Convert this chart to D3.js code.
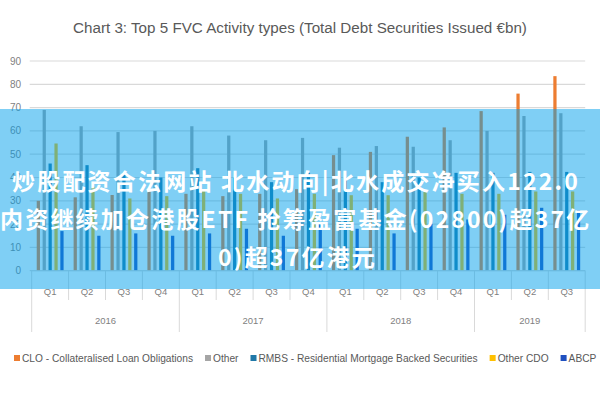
<!DOCTYPE html>
<html>
<head>
<meta charset="utf-8">
<script src="https://cdn.jsdelivr.net/npm/d3@7"></script>
<style>
  html, body { margin: 0; padding: 0; background: #fff; }
  svg { display: block; }
  .lbl { font-family: "Liberation Sans Narrow", "Liberation Sans", "DejaVu Sans", sans-serif; fill: #7f7f7f; }
  .ovl { font-family: "Noto Sans CJK SC", "Noto Sans", sans-serif; font-weight: 700; fill: #ffffff; }
</style>
</head>
<body>
<svg id="chart" width="600" height="400"></svg>
<script>
// ---- data ----
const quarters = ["Q1","Q2","Q3","Q4","Q1","Q2","Q3","Q4","Q1","Q2","Q3","Q4","Q1","Q2","Q3"];
const years = ["2016","2017","2018","2019"];
const quartersPerYear = [4, 4, 4, 3];
const seriesNames = ["CLO - Collateralised Loan Obligations", "Other", "RMBS - Residential Mortgage Backed Securities", "Other CDO", "ABCP"];
const seriesColors = ["#ED7D31", "#A5A5A5", "#1F78A8", "#FFC000", "#1F50C0"];
const clo      = [30, 31.5, 32.5, 34, 33, 32, 33, 35, 49.6, 51, 57.5, 61.5, 68.5, 76, 83.5];
const other    = [69, 62, 59.5, 60, 62, 58, 56, 57, 52.8, 53.5, 53.2, 56, 60, 66.4, 67.6];
const rmbs     = [46, 45.3, 42, 40, 44, 40, 38, 42, 40, 38, 40, 42, 42, 42.4, 42.4];
const otherCdo = [54.6, 36, 31, 32, 35, 33, 31, 33, 32.4, 32.4, 34, 33, 33, 34, 34];
const abcp     = [17, 15, 16, 15, 16, 18, 15, 20, 18, 16, 20, 22, 24, 27, 26];
const yTicks = [0, 10, 20, 30, 40, 50, 60, 70, 80, 90];
const title = "Chart 3: Top 5 FVC Activity types (Total Debt Securities Issued €bn)";
const overlayLines = [
  "炒股配资合法网站 北水动向|北水成交净买入122.0",
  "内资继续加仓港股ETF 抢筹盈富基金(02800)超37亿",
  "0)超37亿港元"
];

const seriesValues = [clo, other, rmbs, otherCdo, abcp];

// ---- layout ----
const svg = d3.select("#chart");
const plotLeft = 31.7, plotRight = 585.2, plotTop = 61, plotBottom = 270.7;

const idx = d3.range(quarters.length);
const x0 = d3.scaleBand().domain(idx).range([plotLeft, plotRight]).paddingInner(0.2).paddingOuter(0.1);
const x1 = d3.scaleBand().domain(d3.range(seriesNames.length)).range([0, x0.bandwidth()]).paddingInner(0.45).paddingOuter(0.225);
const y = d3.scaleLinear().domain([0, 90]).range([plotBottom, plotTop]);
const step = x0.step();
const qStart = i => x0(i) - x0.paddingOuter() * step;

// title
svg.append("text").attr("class", "lbl")
  .attr("x", 300).attr("y", 33).attr("text-anchor", "middle")
  .style("font-size", "15.2px").style("fill", "#595959")
  .text(title);

// gridlines
svg.append("g").selectAll("line").data(yTicks).join("line")
  .attr("x1", plotLeft - 2).attr("x2", plotRight)
  .attr("y1", d => y(d)).attr("y2", d => y(d))
  .attr("stroke", "#d9d9d9").attr("stroke-width", 1.2);

// y labels
svg.append("g").selectAll("text").data(yTicks).join("text")
  .attr("class", "lbl")
  .attr("x", 21).attr("y", d => y(d) + 3.5)
  .attr("text-anchor", "end")
  .style("font-size", "10px")
  .text(d => d);

// bars
const g = svg.append("g");
seriesValues.forEach((vals, s) => {
  g.append("g").attr("fill", seriesColors[s])
    .selectAll("rect").data(vals).join("rect")
    .attr("x", (d, i) => x0(i) + x1(s))
    .attr("width", x1.bandwidth())
    .attr("y", d => y(d))
    .attr("height", d => y(0) - y(d));
});

// category axis
const axis = svg.append("g");
axis.append("line").attr("x1", plotLeft).attr("x2", plotRight).attr("y1", plotBottom).attr("y2", plotBottom)
  .attr("stroke", "#d9d9d9");
const yearStarts = [];
let acc = 0;
quartersPerYear.forEach(n => { yearStarts.push(acc); acc += n; });
const yearBoundaryIdx = new Set(yearStarts.concat([quarters.length]));
d3.range(quarters.length + 1).forEach(k => {
  const xx = plotLeft + k * step;
  axis.append("line").attr("x1", xx).attr("x2", xx)
    .attr("y1", plotBottom).attr("y2", yearBoundaryIdx.has(k) ? 332 : 300)
    .attr("stroke", "#d9d9d9");
});
axis.selectAll("text.q").data(quarters).join("text")
  .attr("class", "lbl q")
  .attr("x", (d, i) => qStart(i) + step / 2).attr("y", 295)
  .attr("text-anchor", "middle").style("font-size", "9.5px")
  .text(d => d);
axis.selectAll("text.yr").data(years).join("text")
  .attr("class", "lbl yr")
  .attr("x", (d, i) => plotLeft + (yearStarts[i] + quartersPerYear[i] / 2) * step).attr("y", 324)
  .attr("text-anchor", "middle").style("font-size", "9.5px")
  .text(d => d);

// legend
const leg = svg.append("g");
let lx = 14;
seriesNames.forEach((name, s) => {
  leg.append("rect").attr("x", lx).attr("y", 355).attr("width", 6).attr("height", 6).attr("fill", seriesColors[s]);
  const t = leg.append("text").attr("class", "lbl").attr("x", lx + 8).attr("y", 361.5)
    .style("font-size", "10.2px").style("fill", "#595959").text(name);
  lx += 8 + t.node().getComputedTextLength() + 12;
});

// overlay band
svg.append("rect").attr("x", 0).attr("y", 109).attr("width", 600).attr("height", 180)
  .attr("fill", "rgba(0,160,235,0.5)");
const ovX = [12, 0, 218];
const ovY = [190, 228, 266];
overlayLines.forEach((line, i) => {
  svg.append("text").attr("class", "ovl")
    .attr("x", ovX[i]).attr("y", ovY[i])
    .style("font-size", "23px").style("letter-spacing", "2.2px")
    .text(line);
});
</script>
</body>
</html>
